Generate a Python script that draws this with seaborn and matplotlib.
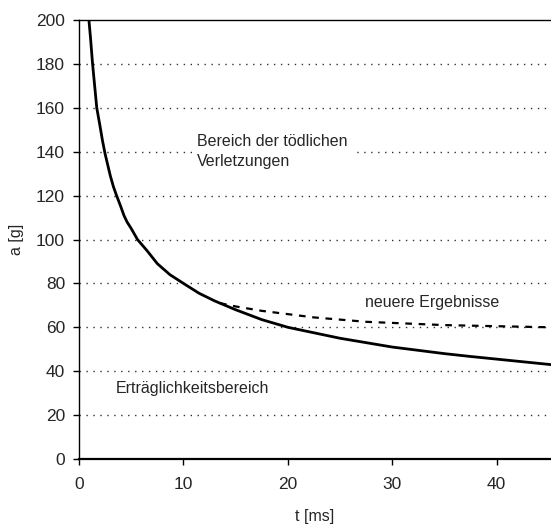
import matplotlib
matplotlib.use("Agg")
import matplotlib.pyplot as plt
import seaborn as sns
import pandas as pd

# tolerance curve (solid)
t_curve = [0.95, 1.1, 1.2, 1.3, 1.4, 1.5, 1.7, 1.85, 2.0, 2.25, 2.5, 2.75,
           3.0, 3.3, 3.6, 4.0, 4.3, 4.6, 5.0, 5.6, 6.5, 7.5, 8.7, 10, 11.5,
           13, 15, 17.5, 20, 22.5, 25, 27.5, 30, 32.5, 35, 37.5, 40, 42.5,
           45.2]
a_curve = [200, 192, 186, 180, 175, 170, 160, 156, 152, 145, 139, 134,
           129, 124, 120, 115, 111, 108, 105, 100, 95, 89, 84, 80, 75.5,
           72, 68, 63.5, 60, 57.5, 55, 53, 51, 49.5, 48, 46.7, 45.5, 44.3,
           43]

# newer results (dashed)
t_new = [13.5, 15, 17.5, 20, 22.5, 25, 27.5, 30, 32.5, 35, 40, 45.2]
a_new = [71, 69.5, 67.5, 66, 64.5, 63.5, 62.5, 62, 61.5, 61, 60.5, 60]

x_ticks = [0, 10, 20, 30, 40]
y_ticks = [0, 20, 40, 60, 80, 100, 120, 140, 160, 180, 200]

sns.set_style("white")
plt.rcParams["font.family"] = ["Liberation Sans", "DejaVu Sans"]

fig = plt.figure(figsize=(5.51, 5.27), dpi=100)
ax = fig.add_axes([79 / 551, 68 / 527, 1 - 79 / 551, 439 / 527])

for y in y_ticks[1:-1]:
    ax.axhline(y, color="#333333", lw=1, ls=(0, (1, 4)), zorder=1)

curve = pd.DataFrame({"t": t_curve, "a": a_curve})
new = pd.DataFrame({"t": t_new, "a": a_new})
sns.lineplot(data=curve, x="t", y="a", ax=ax, color="black", lw=2, zorder=3)
sns.lineplot(data=new, x="t", y="a", ax=ax, color="black", lw=1.6,
             ls=(0, (3, 3)), zorder=3)

box = dict(facecolor="white", edgecolor="none", pad=3)
ax.text(11.3, 140, "Bereich der tödlichen\nVerletzungen", fontsize=11.5,
        va="center", ha="left", linespacing=1.45, bbox=box, zorder=4)
ax.text(27.4, 71.5, "neuere Ergebnisse", fontsize=11.5, va="center",
        ha="left", bbox=box, zorder=4)
ax.text(3.5, 32.3, "Erträglichkeitsbereich", fontsize=11.5, va="center",
        ha="left", bbox=box, zorder=4)

ax.set_xlim(0, 45.2)
ax.set_ylim(0, 200)
ax.set_xticks(x_ticks)
ax.set_yticks(y_ticks)
ax.set_xlabel("t [ms]", fontsize=11.5, labelpad=12)
ax.set_ylabel("a [g]", fontsize=11.5, labelpad=9)
ax.tick_params(axis="both", labelsize=12.5, direction="out", length=4,
               width=1, color="black", bottom=True, left=True, pad=6)
ax.tick_params(axis="x", pad=9)
for side in ["left", "bottom", "top"]:
    ax.spines[side].set_color("black")
    ax.spines[side].set_linewidth(1)
ax.spines["bottom"].set_linewidth(1.6)
ax.spines["right"].set_visible(False)

fig.savefig("out.png", dpi=100)
